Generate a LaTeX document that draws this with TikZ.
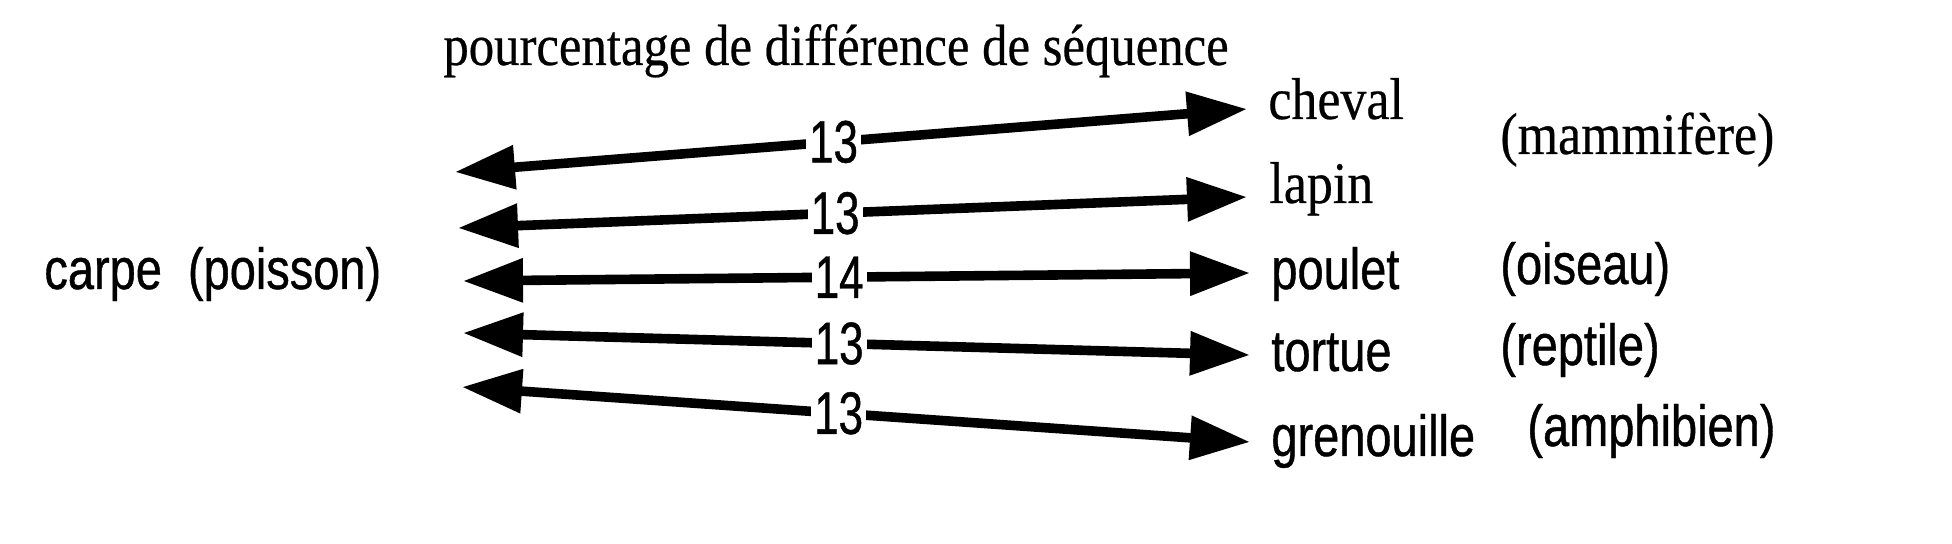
\documentclass[tikz,border=0pt]{standalone}
\usepackage{fontspec}
\setmainfont{Liberation Serif}
\newfontfamily\serifC[FakeStretch=0.88,FakeBold=0.4]{Liberation Serif}
\newfontfamily\titleC[FakeStretch=0.875,FakeBold=0.4]{Liberation Serif}
\newfontfamily\sansC[FakeStretch=0.81,FakeBold=0.7]{Liberation Sans}
\newfontfamily\numC[FakeStretch=0.73,FakeBold=0.7]{Liberation Sans}
\usetikzlibrary{arrows.meta}
\begin{document}
\begin{tikzpicture}[x=0.5pt,y=-0.5pt,
  seriflabel/.style={anchor=base west, inner sep=0pt, font=\serifC\fontsize{29.5}{29.5}\selectfont},
  titlelabel/.style={anchor=base west, inner sep=0pt, font=\titleC\fontsize{29}{29}\selectfont},
  sanslabel/.style={anchor=base west, inner sep=0pt, font=\sansC\fontsize{29}{29}\selectfont},
  numlabel/.style={fill=white, inner xsep=1.5pt, inner ysep=0pt, font=\numC\fontsize{30}{30}\selectfont},
  dblarrow/.style={line width=4.8pt,
    {Triangle[length=30pt,width=21pt]}-{Triangle[length=30pt,width=21pt]}}]
\useasboundingbox (0,0) rectangle (1952,544);
\fill[white] (0,0) rectangle (1952,544);

% title
\node[titlelabel] (title) at (443,65) {pourcentage de différence de séquence};

% left label
\node[sanslabel] (carpe) at (44,289) {carpe~~(poisson)};

% right labels
\node[seriflabel] (cheval) at (1268,119) {cheval};
\node[seriflabel] (lapin) at (1269,203) {lapin};
\node[seriflabel] (mammifere) at (1500,154) {(mammifère)};
\node[sanslabel] (poulet) at (1271,289) {poulet};
\node[sanslabel] (oiseau) at (1500,284) {(oiseau)};
\node[sanslabel] (tortue) at (1271,371) {tortue};
\node[sanslabel] (reptile) at (1500,365) {(reptile)};
\node[sanslabel] (grenouille) at (1271,456) {grenouille};
\node[sanslabel] (amphibien) at (1527,446) {(amphibien)};

% arrow end points
\coordinate (L1) at (455,172);  \coordinate (R1) at (1247,109);
\coordinate (L2) at (458,228);  \coordinate (R2) at (1247,197);
\coordinate (L3) at (463,281);  \coordinate (R3) at (1250,273);
\coordinate (L4) at (463,333);  \coordinate (R4) at (1250,355);
\coordinate (L5) at (462,387);  \coordinate (R5) at (1250,442);

\draw[dblarrow] (L1) -- node[numlabel, pos=0.478] (n1) {13} (R1);
\draw[dblarrow] (L2) -- node[numlabel, pos=0.478] (n2) {13} (R2);
\draw[dblarrow] (L3) -- node[numlabel, pos=0.478] (n3) {14} (R3);
\draw[dblarrow] (L4) -- node[numlabel, pos=0.478] (n4) {13} (R4);
\draw[dblarrow] (L5) -- node[numlabel, pos=0.478] (n5) {13} (R5);
\end{tikzpicture}
\end{document}
